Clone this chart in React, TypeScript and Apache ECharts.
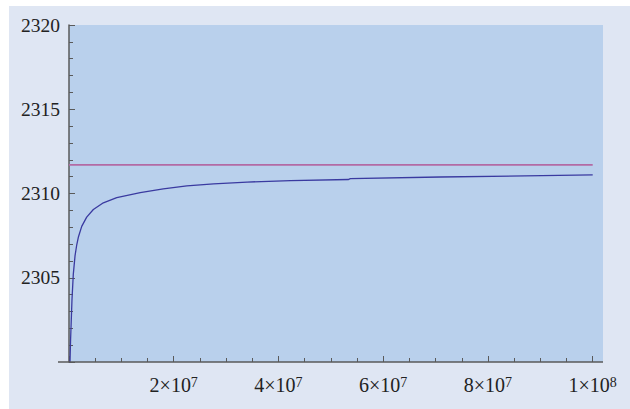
import React, { useEffect, useRef } from "react";
import * as echarts from "echarts";

// Curve (x in units of 1e6)
const curveX = [0.19, 0.3, 0.38, 0.57, 0.82, 1.15, 1.45, 1.78, 2.43, 3.38, 4.65, 6.56, 9.12, 13.6, 18.0, 22.5, 27.6, 34.0, 42.3, 53.4, 53.7, 70.9, 100];
const curveY = [2300.0, 2301.3, 2302.0, 2303.7, 2305.2, 2306.3, 2306.9, 2307.4, 2308.05, 2308.6, 2309.05, 2309.45, 2309.75, 2310.05, 2310.28, 2310.45, 2310.57, 2310.68, 2310.77, 2310.83, 2310.88, 2310.98, 2311.1];
const limitX = [0, 100];
const limitY = [2311.7, 2311.7];
const xMin = 0;
const xMax = 1e8;
const xInterval = 2e7;
const yMin = 2300;
const yMax = 2320;
const yInterval = 5;

const FONT = "'Liberation Serif', 'Times New Roman', serif";

export default function App() {
  const ref = useRef<HTMLDivElement>(null);
  useEffect(() => {
    const chart = echarts.init(ref.current!, null, { renderer: "svg" });
    const curve = curveX.map((x, i) => [x * 1e6, curveY[i]]);
    const limit = limitX.map((x, i) => [x * 1e6, limitY[i]]);
    chart.setOption({
      animation: false,
      backgroundColor: "#ffffff",
      grid: { left: 69, right: 37.3, top: 25, bottom: 47, containLabel: false },
      graphic: [
        { type: "rect", z: -20, silent: true, shape: { x: 9, y: 6, width: 621, height: 403 }, style: { fill: "#dfe6f3" } },
        { type: "rect", z: -10, silent: true, shape: { x: 69, y: 25, width: 534, height: 337 }, style: { fill: "#b9d0ec" } },
        { type: "line", z: 5, silent: true, shape: { x1: 58, y1: 362, x2: 603, y2: 362 }, style: { stroke: "#5a5a5a", lineWidth: 1.5 } },
      ],
      xAxis: {
        type: "value",
        min: xMin,
        max: xMax,
        interval: xInterval,
        axisLine: { show: false },
        axisTick: { show: true, inside: true, length: 6, lineStyle: { color: "#5a5a5a", width: 1 } },
        minorTick: { show: true, splitNumber: 4, length: 4, lineStyle: { color: "#5a5a5a", width: 1 } },
        splitLine: { show: false },
        axisLabel: {
          showMinLabel: false,
          margin: 13,
          color: "#222",
          fontFamily: FONT,
          formatter: (v: number) => {
            if (v === 0) return "";
            const e = Math.floor(Math.log10(v) + 1e-9);
            const m = Math.round(v / Math.pow(10, e));
            return `{b|${m}×10}{s|${e}}`;
          },
          rich: {
            b: { fontFamily: FONT, fontSize: 20, lineHeight: 20, verticalAlign: "bottom", color: "#222" },
            s: { fontFamily: FONT, fontSize: 14, lineHeight: 14, padding: [0, 0, 15, 0], verticalAlign: "top", color: "#222" },
          },
        },
      },
      yAxis: {
        type: "value",
        min: yMin,
        max: yMax,
        interval: yInterval,
        axisLine: { show: true, onZero: false, lineStyle: { color: "#5a5a5a", width: 1.5 } },
        axisTick: { show: true, inside: true, length: 6, lineStyle: { color: "#5a5a5a", width: 1 } },
        minorTick: { show: true, splitNumber: 5, length: 4, lineStyle: { color: "#5a5a5a", width: 1 } },
        splitLine: { show: false },
        axisLabel: {
          showMinLabel: false,
          margin: 9,
          color: "#222",
          fontFamily: FONT,
          fontSize: 19.5,
          formatter: (v: number) => String(v),
        },
      },
      series: [
        {
          type: "line",
          data: limit,
          showSymbol: false,
          lineStyle: { color: "#b36aa4", width: 1.6 },
          z: 3,
        },
        {
          type: "line",
          data: curve,
          showSymbol: false,
          smooth: false,
          lineStyle: { color: "#3a3aa0", width: 1.3 },
          z: 4,
        },
      ],
    });
    return () => chart.dispose();
  }, []);
  return (
    <div
      ref={ref}
      style={{ position: "absolute", left: 0, top: 0, width: 630, height: 409 }}
    />
  );
}
